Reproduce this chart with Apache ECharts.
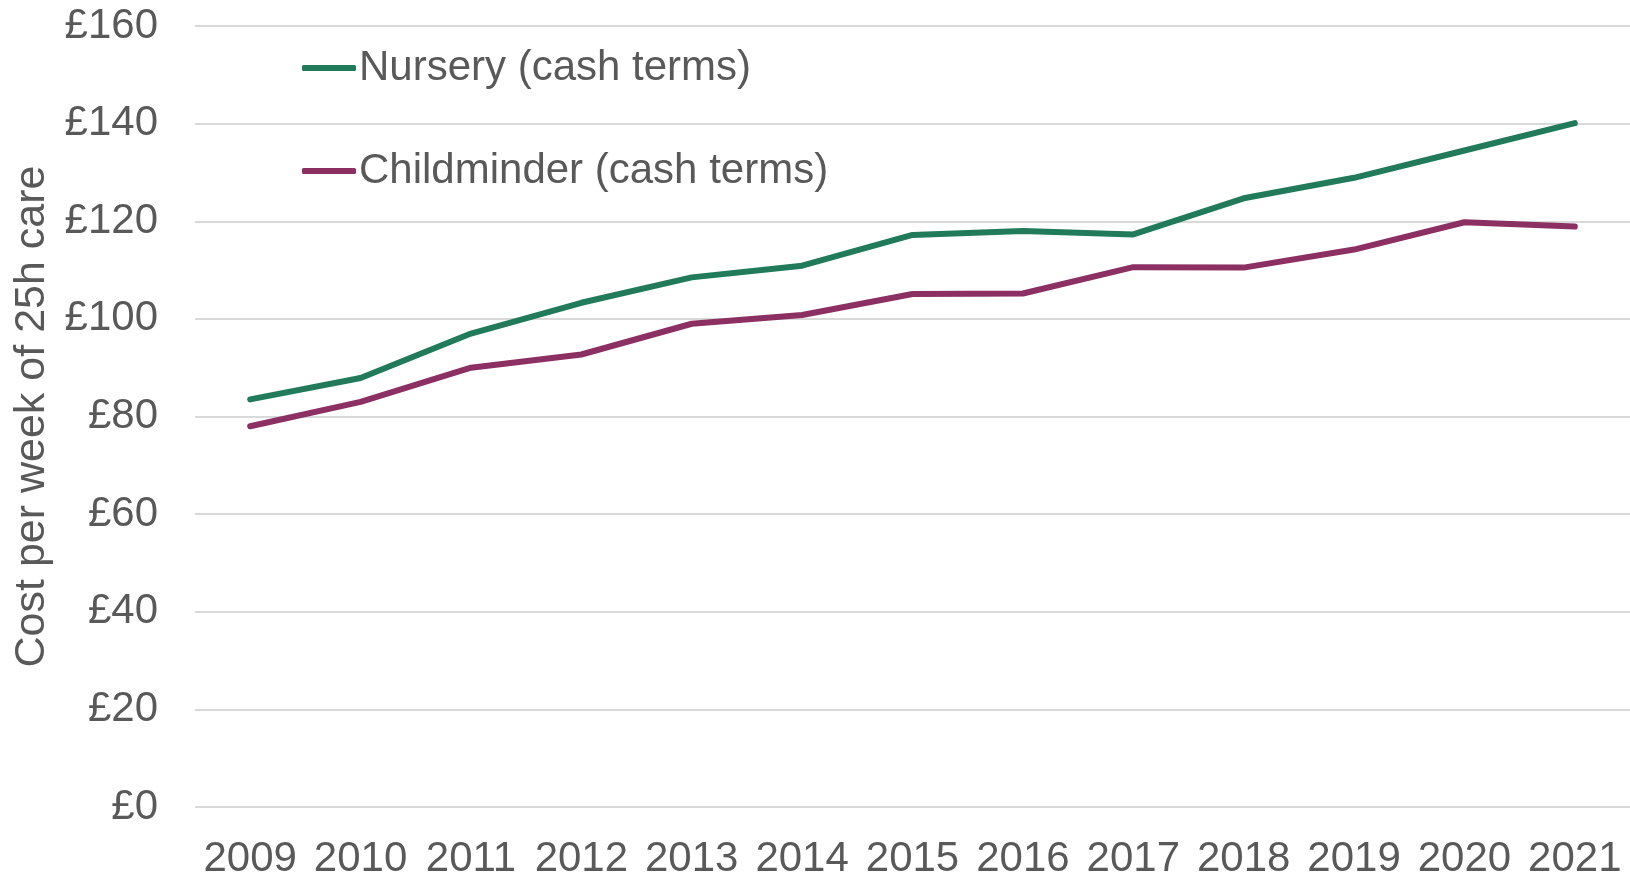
<!DOCTYPE html>
<html>
<head>
<meta charset="utf-8">
<script src="https://cdn.jsdelivr.net/npm/echarts@6/dist/echarts.min.js"></script>
<style>
  html, body { margin: 0; padding: 0; background: #fff; }
  #chart { width: 1630px; height: 874px; }
</style>
</head>
<body>
<div id="chart"></div>
<script>
const years = ["2009", "2010", "2011", "2012", "2013", "2014", "2015", "2016", "2017", "2018", "2019", "2020", "2021"];
const nursery = [83.5, 87.9, 97.0, 103.3, 108.5, 110.9, 117.2, 118.0, 117.3, 124.7, 128.9, 134.5, 140.1];
const childminder = [78.0, 83.0, 90.0, 92.7, 99.0, 100.8, 105.1, 105.2, 110.6, 110.5, 114.2, 119.8, 118.9];
const yTicks = { min: 0, max: 160, step: 20 };

const textColor = "#595959";
const font = "Liberation Sans, Arial, sans-serif";

let chart = echarts.init(document.getElementById("chart"));

let option = {
  animation: false,
  textStyle: { fontFamily: font },
  grid: {
    left: 195,
    right: 0,
    top: 26,
    bottom: 67,
    containLabel: false,
    outerBoundsMode: "none",
  },
  legend: {
    orient: "vertical",
    left: 297,
    top: 38,
    itemWidth: 54,
    itemHeight: 6,
    itemGap: 53,
    icon: "roundRect",
    textStyle: {
      fontSize: 42,
      lineHeight: 50,
      color: textColor,
      fontFamily: font,
      padding: [0, 0, 0, -2],
    },
    data: ["Nursery (cash terms)", "Childminder (cash terms)"],
  },
  xAxis: {
    type: "category",
    data: years,
    boundaryGap: true,
    axisLine: { show: false },
    axisTick: { show: false },
    axisLabel: {
      fontSize: 42,
      color: textColor,
      margin: 31,
      interval: 0,
    },
  },
  yAxis: {
    type: "value",
    min: yTicks.min,
    max: yTicks.max,
    interval: yTicks.step,
    name: "Cost per week of 25h care",
    nameLocation: "middle",
    nameGap: 137,
    nameTextStyle: {
      fontSize: 43,
      color: textColor,
    },
    axisLine: { show: false },
    axisTick: { show: false },
    axisLabel: {
      fontSize: 42,
      color: textColor,
      margin: 37,
      formatter: (v) => "£" + v,
    },
    splitLine: {
      lineStyle: { color: "#d9d9d9", width: 2 },
    },
  },
  series: [
    {
      name: "Nursery (cash terms)",
      type: "line",
      data: nursery,
      showSymbol: false,
      symbol: "none",
      color: "#217a5a",
      lineStyle: { width: 6, cap: "round" },
    },
    {
      name: "Childminder (cash terms)",
      type: "line",
      data: childminder,
      showSymbol: false,
      symbol: "none",
      color: "#8c2f62",
      lineStyle: { width: 6, cap: "round" },
    },
  ],
};

chart.setOption(option);
</script>
</body>
</html>
